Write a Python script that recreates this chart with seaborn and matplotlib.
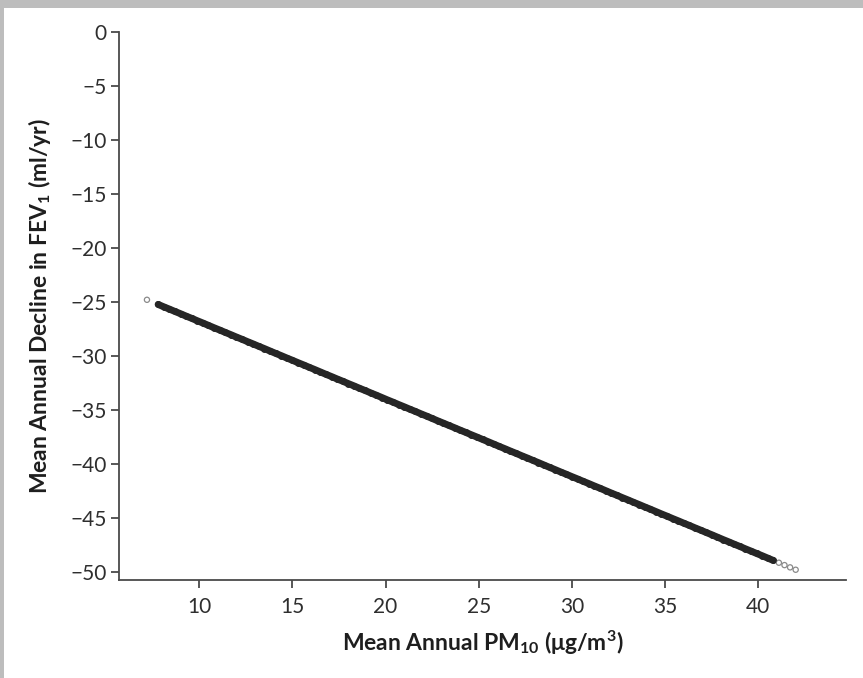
import matplotlib
matplotlib.use("Agg")
import matplotlib.pyplot as plt
import seaborn as sns
import pandas as pd
from matplotlib.patches import Rectangle

# Dense part of the scatter (PM10 vs decline in FEV1)
pm10_dense = [7.8, 8.1, 8.4, 8.7, 9.0, 9.3, 9.6, 9.9, 10.2, 10.5, 10.8, 11.1, 11.4, 11.7,
              12.0, 12.3, 12.6, 12.9, 13.2, 13.5, 13.8, 14.1, 14.4, 14.7, 15.0, 15.3, 15.6,
              15.9, 16.2, 16.5, 16.8, 17.1, 17.4, 17.7, 18.0, 18.3, 18.6, 18.9, 19.2, 19.5,
              19.8, 20.1, 20.4, 20.7, 21.0, 21.3, 21.6, 21.9, 22.2, 22.5, 22.8, 23.1, 23.4,
              23.7, 24.0, 24.3, 24.6, 24.9, 25.2, 25.5, 25.8, 26.1, 26.4, 26.7, 27.0, 27.3,
              27.6, 27.9, 28.2, 28.5, 28.8, 29.1, 29.4, 29.7, 30.0, 30.3, 30.6, 30.9, 31.2,
              31.5, 31.8, 32.1, 32.4, 32.7, 33.0, 33.3, 33.6, 33.9, 34.2, 34.5, 34.8, 35.1,
              35.4, 35.7, 36.0, 36.3, 36.6, 36.9, 37.2, 37.5, 37.8, 38.1, 38.4, 38.7, 39.0,
              39.3, 39.6, 39.9, 40.2, 40.5, 40.8]
fev1_dense = [-25.23, -25.45, -25.66, -25.88, -26.09, -26.31, -26.52, -26.74, -26.95, -27.17,
              -27.39, -27.60, -27.82, -28.03, -28.25, -28.46, -28.68, -28.89, -29.11, -29.32,
              -29.54, -29.76, -29.97, -30.19, -30.40, -30.62, -30.83, -31.05, -31.26, -31.48,
              -31.70, -31.91, -32.13, -32.34, -32.56, -32.77, -32.99, -33.20, -33.42, -33.63,
              -33.85, -34.07, -34.28, -34.50, -34.71, -34.93, -35.14, -35.36, -35.57, -35.79,
              -36.01, -36.22, -36.44, -36.65, -36.87, -37.08, -37.30, -37.51, -37.73, -37.94,
              -38.16, -38.38, -38.59, -38.81, -39.02, -39.24, -39.45, -39.67, -39.88, -40.10,
              -40.32, -40.53, -40.75, -40.96, -41.18, -41.39, -41.61, -41.82, -42.04, -42.25,
              -42.47, -42.69, -42.90, -43.12, -43.33, -43.55, -43.76, -43.98, -44.19, -44.41,
              -44.63, -44.84, -45.06, -45.27, -45.49, -45.70, -45.92, -46.13, -46.35, -46.56,
              -46.78, -47.00, -47.21, -47.43, -47.64, -47.86, -48.07, -48.29, -48.50, -48.72,
              -48.94]
# Sparse outlying points at both ends
pm10_sparse = [7.2, 41.1, 41.4, 41.7, 42.0]
fev1_sparse = [-24.80, -49.15, -49.37, -49.58, -49.80]

x_ticks = [10, 15, 20, 25, 30, 35, 40]
y_ticks = [0, -5, -10, -15, -20, -25, -30, -35, -40, -45, -50]

sns.set_style("white")
FONT = "Lato"
plt.rcParams["font.family"] = [FONT, "DejaVu Sans"]
plt.rcParams["mathtext.fontset"] = "custom"
plt.rcParams["mathtext.rm"] = FONT
plt.rcParams["mathtext.it"] = f"{FONT}:italic"
plt.rcParams["mathtext.bf"] = f"{FONT}:bold"

fig = plt.figure(figsize=(8.63, 6.78), dpi=100)
fig.patches.append(Rectangle((0, 1 - 8 / 678), 1, 8 / 678, transform=fig.transFigure,
                             facecolor="#bdbdbd", edgecolor="none", zorder=0))
fig.patches.append(Rectangle((0, 0), 4 / 863, 1, transform=fig.transFigure,
                             facecolor="#bdbdbd", edgecolor="none", zorder=0))

ax = fig.add_axes([119 / 863, 1 - 580 / 678, (846 - 119) / 863, (580 - 32) / 678])

dense = pd.DataFrame({"pm10": pm10_dense, "fev1": fev1_dense})
sparse = pd.DataFrame({"pm10": pm10_sparse, "fev1": fev1_sparse})

# overlapping points form a continuous dark band
sns.lineplot(data=dense, x="pm10", y="fev1", ax=ax, color="#262626", linewidth=5.0,
             solid_capstyle="round", legend=False)
sns.scatterplot(data=dense, x="pm10", y="fev1", ax=ax, s=17, marker="o",
                facecolor="#2a2a2a", edgecolor="#151515", linewidth=0.8, alpha=0.9,
                legend=False)
sns.scatterplot(data=sparse, x="pm10", y="fev1", ax=ax, s=14, marker="o",
                facecolor="none", edgecolor="#8a8a8a", linewidth=0.9, legend=False)

ax.set_xlim(5.7, 44.7)
ax.set_ylim(-50.75, 0)
ax.set_xticks(x_ticks)
ax.set_yticks(y_ticks)
ax.set_xticklabels([str(v) for v in x_ticks])
ax.set_yticklabels([f"\u2212{abs(v)}" if v < 0 else str(v) for v in y_ticks])

for side in ["top", "right"]:
    ax.spines[side].set_visible(False)
for side in ["left", "bottom"]:
    ax.spines[side].set_color("#4a4a4a")
    ax.spines[side].set_linewidth(1.3)

ax.tick_params(axis="both", direction="out", length=6, width=1.3, color="#4a4a4a",
               labelsize=15, labelcolor="#2e2e2e", left=True, bottom=True)
ax.tick_params(axis="x", pad=6)
ax.tick_params(axis="y", pad=3)

ax.set_xlabel(r"Mean Annual PM$_{\mathbf{10}}$ (μg/m$^{\mathbf{3}}$)", fontsize=16.5,
              fontweight="bold", color="#1e1e1e", labelpad=9)
ax.set_ylabel(r"Mean Annual Decline in FEV$_{\mathbf{1}}$ (ml/yr)", fontsize=16.5,
              fontweight="bold", color="#1e1e1e", labelpad=12)

fig.savefig("out.png", dpi=100)
